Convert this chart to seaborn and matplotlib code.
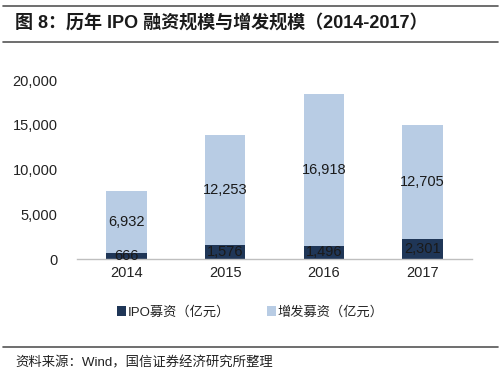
import matplotlib
matplotlib.use("Agg")
import matplotlib.pyplot as plt
from matplotlib.lines import Line2D
from matplotlib.patches import Patch
from matplotlib.ticker import FuncFormatter
import seaborn as sns
import pandas as pd

years = ["2014", "2015", "2016", "2017"]
ipo = [666, 1576, 1496, 2301]
seo = [6932, 12253, 16918, 12705]
yticks = [0, 5000, 10000, 15000, 20000]

title = "图 8：历年 IPO 融资规模与增发规模（2014-2017）"
series_names = ["IPO募资（亿元）", "增发募资（亿元）"]
source = "资料来源：Wind，国信证券经济研究所整理"

dark = "#1f3657"
light = "#b8cce4"

sns.set_theme(style="white")
plt.rcParams['font.family'] = ['Liberation Sans', 'Noto Sans CJK SC', 'DejaVu Sans']

df = pd.DataFrame({"year": years, "ipo": ipo, "seo": seo})

fig = plt.figure(figsize=(5, 3.8), dpi=100)
ax = fig.add_axes([0.154, 0.318, 0.79, 0.471])

sns.barplot(data=df, x="year", y="ipo", color=dark, width=0.41, saturation=1, ax=ax, linewidth=0)
sns.barplot(data=df, x="year", y="seo", color=light, width=0.41, saturation=1, ax=ax, linewidth=0,
            bottom=df["ipo"].values)

ax.bar_label(ax.containers[0], labels=[f"{v:,}" for v in ipo], label_type="center", fontsize=10.5, color="#1a1a1a")
ax.bar_label(ax.containers[1], labels=[f"{v:,}" for v in seo], label_type="center", fontsize=10.5, color="#1a1a1a")

ax.set_ylim(0, 20000)
ax.set_yticks(yticks)
ax.yaxis.set_major_formatter(FuncFormatter(lambda v, p: f"{int(v):,}"))
ax.set_xlabel("")
ax.set_ylabel("")
for s in ["top", "right", "left"]:
    ax.spines[s].set_visible(False)
ax.spines["bottom"].set_color("#bfbfbf")
ax.spines["bottom"].set_linewidth(1.0)
ax.tick_params(axis="both", length=0, labelsize=10.5, colors="#222222")
ax.tick_params(axis="y", pad=14)
ax.tick_params(axis="x", pad=5)

handles = [Patch(facecolor=dark, edgecolor="none"), Patch(facecolor=light, edgecolor="none")]
fig.legend(handles, series_names, loc="center", bbox_to_anchor=(0.5, 0.178), ncol=2, frameon=False,
           fontsize=9.5, handlelength=0.7, handleheight=0.7, handletextpad=0.1, columnspacing=2.8,
           labelcolor="#222222")

fig.text(0.03, 0.94, title, fontsize=13, fontweight="bold", color="#1a1a1a", va="center", ha="left")
fig.text(0.03, 0.045, source, fontsize=9.6, color="#222222", va="center", ha="left")

for y in [0.984, 0.889, 0.087]:
    fig.add_artist(Line2D([0.005, 0.995], [y, y], color="#555555", linewidth=1.2, transform=fig.transFigure))

fig.savefig("out.png", dpi=100)
